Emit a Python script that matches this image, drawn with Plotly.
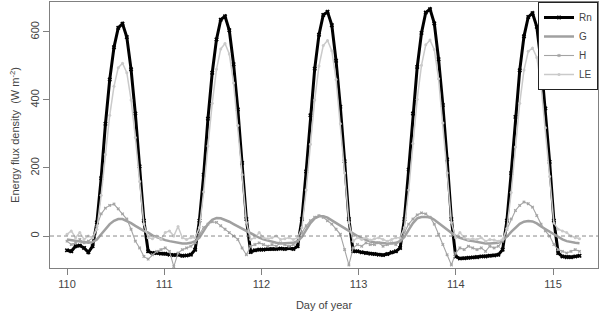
import numpy as np
import plotly.graph_objects as go

# Sampling: 24 samples per diurnal cycle, starting at day 110
T0 = 110.0
STEP = 0.04394

Rn = [
    # cycle 0
    -42, -45, -30, -28, -35, -48, -30, 40, 170, 330, 460, 555, 612, 624, 585, 490, 360, 205, 45, -45, -50, -50, -52, -52,
    # cycle 1
    -55, -56, -55, -58, -57, -55, -40, 45, 180, 345, 480, 578, 636, 646, 605, 505, 372, 215, 50, -47, -42, -40, -40, -38,
    # cycle 2
    -38, -38, -37, -38, -36, -38, -30, 50, 190, 355, 492, 592, 650, 659, 620, 515, 380, 220, 50, -45, -45, -48, -50, -52,
    # cycle 3
    -53, -55, -56, -53, -48, -45, -35, 50, 195, 360, 497, 597, 657, 667, 625, 520, 385, 225, 50, -60, -66, -65, -64, -63,
    # cycle 4
    -62, -60, -60, -58, -57, -55, -40, 45, 185, 350, 487, 587, 644, 655, 615, 510, 375, 218, 45, -50, -60, -62, -62, -60,
    -58,
]

G = [
    -10, -12, -15, -18, -20, -20, -18, -10, 5, 20, 35, 45, 50, 50, 45, 38, 30, 22, 15, 10, 2, -3, -8, -12,
    -15, -18, -20, -22, -22, -20, -15, -5, 15, 35, 48, 53, 52, 48, 42, 35, 28, 22, 15, 8, 2, -5, -10, -14,
    -17, -20, -22, -22, -22, -20, -15, -3, 18, 38, 52, 58, 58, 54, 46, 38, 30, 22, 14, 6, 0, -6, -12, -16,
    -18, -20, -22, -22, -22, -20, -15, -3, 18, 38, 52, 56, 56, 55, 48, 38, 28, 18, 8, 0, -5, -10, -13, -15,
    -18, -20, -22, -22, -22, -20, -12, -2, 12, 25, 36, 42, 44, 43, 37, 28, 20, 12, 4, -4, -10, -15, -18, -20,
    -21,
]

H = [
    -15, -25, -20, -10, -20, -15, -5, 30, 65, 82, 90, 94, 80, 65, 50, 20, -15, -35, -60, -68, -55, -45, -40, -35,
    -45, -90, -50, -40, -35, -30, -20, 5, 25, 35, 42, 40, 30, 20, 10, 0, -10, -35, -55, -30, -25, -20, -25, -30,
    -25, -30, -20, -25, -30, -25, -15, 10, 30, 45, 55, 60, 55, 45, 35, 20, 5, -40, -85, -35, -25, -30, -20, -25,
    -25, -20, -30, -25, -20, -25, -15, 10, 35, 50, 62, 68, 65, 55, 35, 5, -25, -55, -85, -50, -35, -40, -30, -35,
    -40, -35, -45, -30, -35, -30, -15, 20, 50, 75, 90, 100, 95, 85, 60, 35, 15, 0, -25, -40, -45, -50, -45, -40,
    -45,
]

LE = [
    5, 15, -5, 10, -10, 0, -5, 20, 120, 240, 355, 440, 495, 508, 480, 400, 290, 160, 35, -5, -8, 0, -10, 10,
    15, 0, 28, -5, -10, -5, -5, 25, 130, 265, 390, 490, 550, 566, 535, 450, 325, 180, 40, -10, -5, 10, -5, -8,
    -5, 0, -10, -8, -5, -10, -5, 25, 135, 270, 400, 500, 560, 575, 545, 460, 330, 185, 40, -15, -5, -10, -5, -12,
    -8, -5, -10, -15, -10, -5, -5, 25, 135, 272, 402, 502, 562, 576, 548, 462, 332, 185, 40, -5, 10, -5, -10, -8,
    -10, -5, -15, -10, -12, -15, -10, 22, 128, 262, 390, 488, 543, 553, 525, 442, 318, 175, 38, 20, 15, 10, 0, -5,
    -8,
]

x = T0 + np.arange(len(Rn)) * STEP

XTICKS = [110, 111, 112, 113, 114, 115]
YTICKS = [0, 200, 400, 600]

fig = go.Figure()
fig.add_trace(go.Scatter(x=x, y=Rn, name="Rn", mode="lines+markers",
                         line=dict(color="#000000", width=3),
                         marker=dict(symbol="x", size=4, color="#000000")))
fig.add_trace(go.Scatter(x=x, y=G, name="G", mode="lines",
                         line=dict(color="#a0a0a0", width=2.5)))
fig.add_trace(go.Scatter(x=x, y=H, name="H", mode="lines+markers",
                         line=dict(color="#a4a4a4", width=1.1),
                         marker=dict(symbol="x", size=3, color="#a4a4a4")))
fig.add_trace(go.Scatter(x=x, y=LE, name="LE", mode="lines+markers",
                         line=dict(color="#cacaca", width=1.5),
                         marker=dict(symbol="circle", size=3, color="#cacaca")))

fig.add_shape(type="line", xref="paper", yref="y", x0=0, x1=1, y0=0, y1=0,
              line=dict(color="#8a8a8a", width=1, dash="4px,3px"))

axis_common = dict(showline=True, linecolor="#808080", linewidth=1, mirror=True,
                   ticks="outside", ticklen=6, tickcolor="#808080",
                   showgrid=False, zeroline=False,
                   tickfont=dict(size=11, color="#444444"))

fig.update_layout(
    width=600, height=320,
    margin=dict(l=50, r=2, t=2, b=52),
    paper_bgcolor="white", plot_bgcolor="white",
    font=dict(family="Liberation Sans, Arial, sans-serif", size=11, color="#444444"),
    xaxis=dict(range=[109.825, 115.463], tickvals=XTICKS,
               title=dict(text="Day of year", font=dict(size=11), standoff=12),
               **axis_common),
    yaxis=dict(range=[-94, 688], tickvals=YTICKS, tickangle=-90,
               title=dict(text="Energy flux density  (W m<sup>-2</sup>)", font=dict(size=11), standoff=6),
               **axis_common),
    legend=dict(x=1, xanchor="right", y=1, yanchor="top",
                bgcolor="white", bordercolor="#222222", borderwidth=1,
                font=dict(size=10, color="#444444"), itemwidth=30,
                tracegroupgap=0),
    showlegend=True,
)

fig.write_html("out.html")
